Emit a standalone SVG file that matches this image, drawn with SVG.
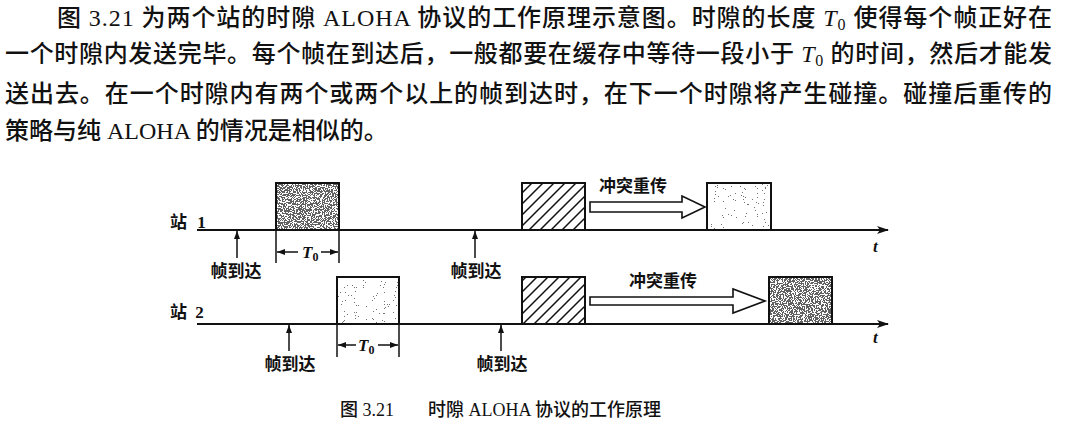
<svg xmlns="http://www.w3.org/2000/svg" width="1065" height="448" viewBox="0 0 1065 448">
  <style>
    .para { font-family: "Liberation Serif", "Noto Sans CJK SC", serif; font-size: 24px; font-weight: 500; fill: #111; }
    .lbl { font-family: "Liberation Serif", "Noto Sans CJK SC", sans-serif; font-size: 17px; font-weight: 700; fill: #111; }
    .cap { font-family: "Liberation Serif", "Noto Sans CJK SC", serif; font-size: 18px; font-weight: 500; fill: #111; }
    .it { font-family: "Liberation Serif", serif; font-style: italic; }
    .sub { font-family: "Liberation Serif", serif; font-style: normal; }
    .axis { stroke: #111; stroke-width: 2; fill: none; }
    .thin { stroke: #111; stroke-width: 1.5; fill: none; }
    .frame { stroke: #111; stroke-width: 2; fill: none; }
    .hollow { stroke: #111; stroke-width: 1.6; fill: #fff; }
  </style>
  <defs>
    <marker id="axisHead" viewBox="0 0 12 8" refX="11" refY="4" markerWidth="12" markerHeight="8" markerUnits="userSpaceOnUse" orient="auto">
      <path d="M0,0 L12,4 L0,8 L3,4 Z" fill="#111"/>
    </marker>
    <marker id="smallHead" viewBox="0 0 8 6" refX="8" refY="3" markerWidth="8" markerHeight="6" markerUnits="userSpaceOnUse" orient="auto">
      <path d="M0,0 L8,3 L0,6 Z" fill="#111"/>
    </marker>
    <pattern id="hatch" patternUnits="userSpaceOnUse" width="11" height="11">
      <path d="M-2,2 L2,-2 M0,11 L11,0 M9,13 L13,9" stroke="#111" stroke-width="1.5"/>
    </pattern>
    <!-- speckled frame fills: thresholded fractal noise -->
    <filter id="noiseDark" x="0" y="0" width="1" height="1">
      <feTurbulence type="fractalNoise" baseFrequency="0.9" numOctaves="2" seed="4"/>
      <feColorMatrix type="matrix" values="0 0 0 0 0.08  0 0 0 0 0.08  0 0 0 0 0.08  3 0 0 0 -0.95"/>
      <feComponentTransfer><feFuncA type="discrete" tableValues="0 0.9"/></feComponentTransfer>
    </filter>
    <filter id="noiseLight" x="0" y="0" width="1" height="1">
      <feTurbulence type="fractalNoise" baseFrequency="0.9" numOctaves="2" seed="9"/>
      <feColorMatrix type="matrix" values="0 0 0 0 0.1  0 0 0 0 0.1  0 0 0 0 0.1  4 0 0 0 -2.4"/>
      <feComponentTransfer><feFuncA type="discrete" tableValues="0 0.85"/></feComponentTransfer>
    </filter>
  </defs>

  <!-- body text -->
  <g id="paragraph">
    <text class="para" x="57" y="26" textLength="995" lengthAdjust="spacing">图 3.21 为两个站的时隙 ALOHA 协议的工作原理示意图。时隙的长度 <tspan class="it">T</tspan><tspan class="sub" font-size="16" dy="4">0</tspan><tspan dy="-4"> 使得每个帧正好在</tspan></text>
    <text class="para" x="5" y="62" textLength="1047" lengthAdjust="spacing">一个时隙内发送完毕。每个帧在到达后，一般都要在缓存中等待一段小于 <tspan class="it">T</tspan><tspan class="sub" font-size="16" dy="4">0</tspan><tspan dy="-4"> 的时间，然后才能发</tspan></text>
    <text class="para" x="5" y="102" textLength="1047" lengthAdjust="spacing">送出去。在一个时隙内有两个或两个以上的帧到达时，在下一个时隙将产生碰撞。碰撞后重传的</text>
    <text class="para" x="5" y="139">策略与纯 ALOHA 的情况是相似的。</text>
  </g>

  <!-- station 1 -->
  <g id="station1">
    <text class="lbl" x="170" y="228">站 <tspan dx="6">1</tspan></text>
  </g>
  <g id="s1-frame-a">
    <rect x="276" y="183" width="63" height="47" fill="#000" filter="url(#noiseDark)"/>
    <rect class="frame" x="276" y="183" width="63" height="47"/>
  </g>
  <g id="s1-collision">
    <rect x="522" y="183" width="63" height="47" fill="url(#hatch)"/>
    <rect class="frame" x="522" y="183" width="63" height="47"/>
  </g>
  <g id="s1-retransmit">
    <rect x="707" y="183" width="64" height="47" fill="#000" filter="url(#noiseLight)"/>
    <rect class="frame" x="707" y="183" width="64" height="47"/>
  </g>
  <g id="s1-arrival-1">
    <text class="lbl" x="236" y="277" text-anchor="middle">帧到达</text>
  </g>
  <g id="s1-arrival-2">
    <text class="lbl" x="476" y="277" text-anchor="middle">帧到达</text>
  </g>
  <g id="s1-t0">
    <text class="lbl" x="302" y="258"><tspan class="it" font-size="17">T</tspan><tspan class="sub" font-size="12" dy="3">0</tspan></text>
  </g>
  <g id="s1-retry-label">
    <text class="lbl" x="633" y="192" text-anchor="middle">冲突重传</text>
  </g>
  <g id="s1-time">
    <text class="lbl it" x="873" y="252">t</text>
  </g>

  <!-- station 2 -->
  <g id="station2">
    <text class="lbl" x="170" y="318">站 <tspan dx="4">2</tspan></text>
  </g>
  <g id="s2-frame-a">
    <rect x="337" y="277" width="62" height="47" fill="#000" filter="url(#noiseLight)"/>
    <rect class="frame" x="337" y="277" width="62" height="47"/>
  </g>
  <g id="s2-collision">
    <rect x="522" y="277" width="63" height="47" fill="url(#hatch)"/>
    <rect class="frame" x="522" y="277" width="63" height="47"/>
  </g>
  <g id="s2-retransmit">
    <rect x="769" y="277" width="63" height="47" fill="#000" filter="url(#noiseDark)"/>
    <rect class="frame" x="769" y="277" width="63" height="47"/>
  </g>
  <g id="s2-arrival-1">
    <text class="lbl" x="290" y="370" text-anchor="middle">帧到达</text>
  </g>
  <g id="s2-arrival-2">
    <text class="lbl" x="502" y="370" text-anchor="middle">帧到达</text>
  </g>
  <g id="s2-t0">
    <text class="lbl" x="358" y="351"><tspan class="it" font-size="17">T</tspan><tspan class="sub" font-size="12" dy="3">0</tspan></text>
  </g>
  <g id="s2-retry-label">
    <text class="lbl" x="663" y="287" text-anchor="middle">冲突重传</text>
  </g>
  <g id="s2-time">
    <text class="lbl it" x="873" y="343">t</text>
  </g>

  <!-- connectors -->
  <g id="connectors">
    <!-- time axes -->
    <line class="axis" x1="197" y1="230" x2="888" y2="230" marker-end="url(#axisHead)"/>
    <line class="axis" x1="197" y1="324" x2="888" y2="324" marker-end="url(#axisHead)"/>
    <!-- frame arrivals -->
    <line class="thin" x1="237" y1="258" x2="237" y2="231" marker-end="url(#smallHead)"/>
    <line class="thin" x1="475" y1="258" x2="475" y2="231" marker-end="url(#smallHead)"/>
    <line class="thin" x1="289" y1="351" x2="289" y2="325" marker-end="url(#smallHead)"/>
    <line class="thin" x1="501" y1="351" x2="501" y2="325" marker-end="url(#smallHead)"/>
    <!-- slot length T0 -->
    <line class="thin" x1="276" y1="230" x2="276" y2="263"/>
    <line class="thin" x1="339" y1="230" x2="339" y2="263"/>
    <line class="thin" x1="298" y1="252" x2="277" y2="252" marker-end="url(#smallHead)"/>
    <line class="thin" x1="321" y1="252" x2="338" y2="252" marker-end="url(#smallHead)"/>
    <line class="thin" x1="337" y1="324" x2="337" y2="357"/>
    <line class="thin" x1="399" y1="324" x2="399" y2="357"/>
    <line class="thin" x1="356" y1="345" x2="338" y2="345" marker-end="url(#smallHead)"/>
    <line class="thin" x1="378" y1="345" x2="398" y2="345" marker-end="url(#smallHead)"/>
    <!-- retransmission arrows -->
    <polygon class="hollow" points="590,202 682,202 682,196 705,207 682,218 682,212 590,212"/>
    <polygon class="hollow" points="590,297 733,297 733,289 765,301 733,313 733,305 590,305"/>
  </g>

  <!-- caption -->
  <g id="caption">
    <text class="cap" x="340" y="416">图 3.21</text>
    <text class="cap" x="428" y="416">时隙 ALOHA 协议的工作原理</text>
  </g>
</svg>
